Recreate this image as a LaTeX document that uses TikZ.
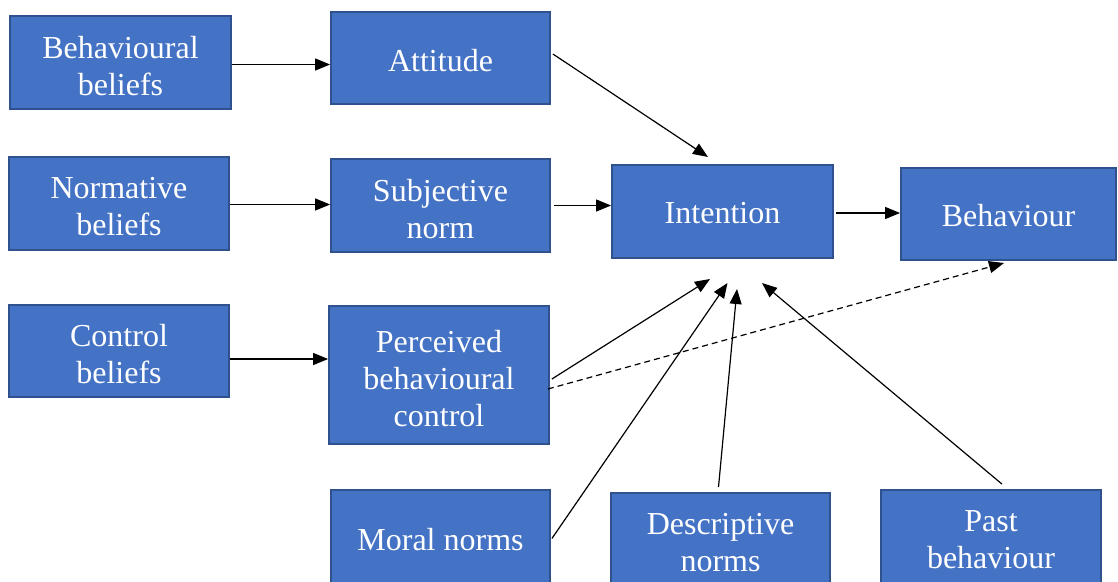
\documentclass[tikz,border=0pt]{standalone}
\usepackage{fontspec}
\setmainfont{Liberation Serif}
\usetikzlibrary{arrows.meta}
\definecolor{boxfill}{HTML}{4472C4}
\definecolor{boxline}{HTML}{2F528F}
\tikzset{
  box/.style={draw=boxline, line width=1.8pt, fill=boxfill, inner sep=0pt},
  txt/.style={text=white, align=center, font=\fontsize{32}{37}\selectfont, inner sep=0pt},
  conn/.style={line width=1.2pt, -{Triangle[length=15pt,width=12pt]}},
  dconn/.style={conn, dash pattern=on 6pt off 4pt}
}
\begin{document}
\begin{tikzpicture}[x=1pt,y=-1pt]
\useasboundingbox (0,0) rectangle (1118,581);
\node[box, minimum width=221pt, minimum height=93pt] (bb) at (120.5,62.5) {};
\node[box, minimum width=219pt, minimum height=92pt] (att) at (440.5,58) {};
\node[box, minimum width=220pt, minimum height=93pt] (nb) at (119,203.5) {};
\node[box, minimum width=219pt, minimum height=93pt] (sn) at (440.5,205.5) {};
\node[box, minimum width=221pt, minimum height=93pt] (int) at (722.5,211.5) {};
\node[box, minimum width=215pt, minimum height=92pt] (beh) at (1008.5,214) {};
\node[box, minimum width=220pt, minimum height=92pt] (cb) at (119,351) {};
\node[box, minimum width=220pt, minimum height=138pt] (pbc) at (439,375) {};
\node[box, minimum width=219pt, minimum height=93pt] (mn) at (440.5,536.5) {};
\node[box, minimum width=219pt, minimum height=93pt] (dn) at (720.5,539.5) {};
\node[box, minimum width=220pt, minimum height=93pt] (pb) at (991,536.5) {};

\node[txt] (bbt) at ([yshift=-3.5pt]bb.center) {Behavioural\\beliefs};
\node[txt] (attt) at ([yshift=-2.5pt]att.center) {Attitude};
\node[txt] (nbt) at ([yshift=-3.5pt]nb.center) {Normative\\beliefs};
\node[txt] (snt) at ([yshift=-3.5pt]sn.center) {Subjective\\norm};
\node[txt] (intt) at ([yshift=-2pt]int.center) {Intention};
\node[txt] (beht) at ([yshift=-1.5pt]beh.center) {Behaviour};
\node[txt] (cbt) at ([yshift=-3.5pt]cb.center) {Control\\beliefs};
\node[txt] (pbct) at ([yshift=-3.5pt]pbc.center) {Perceived\\behavioural\\control};
\node[txt] (mnt) at ([yshift=-3.5pt]mn.center) {Moral norms};
\node[txt] (dnt) at ([yshift=-3.5pt]dn.center) {Descriptive\\norms};
\node[txt] (pbt) at ([yshift=-3.5pt]pb.center) {Past\\behaviour};

\coordinate (t1) at (708,157);
\coordinate (t2) at (710,279);
\coordinate (t3) at (727.5,283);
\coordinate (t4) at (737,289);
\coordinate (t5) at (762,283);
\coordinate (t6) at (1004,263);

\draw[conn] ([yshift=-2pt]bb.east) -- ([yshift=-2pt]bb.east -| att.west);
\draw[conn] ([yshift=-1pt]nb.east) -- ([yshift=-1pt]nb.east -| sn.west);
\draw[conn] ([yshift=-8pt]cb.east) -- ([yshift=-8pt]cb.east -| pbc.west);
\draw[conn] ([xshift=3pt]sn.east) -- (sn.east -| int.west);
\draw[conn] ([xshift=2pt,yshift=-1.5pt]int.east) -- ([yshift=-1.5pt]int.east -| beh.west);
\draw[conn] ([xshift=2pt,yshift=4pt]att.east) -- (t1);
\draw[conn] ([xshift=2pt,yshift=-4pt]pbc.east) -- (t2);
\draw[dconn] ([xshift=-2pt,yshift=-14pt]pbc.east) -- (t6);
\draw[conn] ([xshift=1pt,yshift=-2pt]mn.east) -- (t3);
\draw[conn] ([xshift=-2pt,yshift=5pt]dn.north) -- (t4);
\draw[conn] ([xshift=11pt,yshift=5pt]pb.north) -- (t5);
\end{tikzpicture}
\end{document}
